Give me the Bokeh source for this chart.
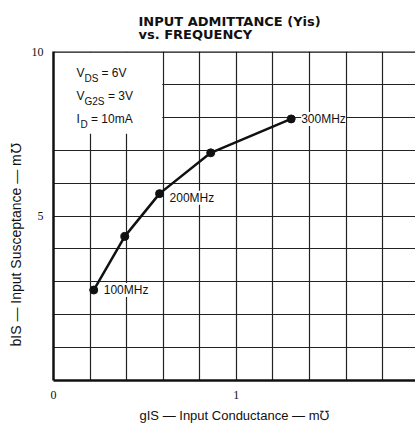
from bokeh.plotting import figure
from bokeh.models import Label, BoxAnnotation, Span, FixedTicker, Range1d, Title
from bokeh.embed import file_html
from bokeh.resources import INLINE

# ---- data ----
g_is = [0.22, 0.39, 0.58, 0.86, 1.30]      # input conductance, mmho
b_is = [2.75, 4.38, 5.68, 6.92, 7.95]      # input susceptance, mmho
freq_labels = ["100MHz", "", "200MHz", "", "300MHz"]

x_ticks = [0, 1]
y_ticks = [5, 10]
x_grid = [0.2, 0.4, 0.6, 0.8, 1.0, 1.2, 1.4, 1.6, 1.8]
y_grid = [1, 2, 3, 4, 5, 6, 7, 8, 9]

title_lines = ["INPUT ADMITTANCE (Yis)", "vs. FREQUENCY"]
cond_lines = [("V", "DS", "= 6V"), ("V", "G2S", "= 3V"), ("I", "D", "= 10mA")]
x_label = "gIS — Input Conductance — m℧"
y_label = "bIS — Input Susceptance — m℧"

INK = "#111111"
FONT = "Liberation Sans"

p = figure(width=415, height=425, x_range=Range1d(0, 1.98), y_range=Range1d(0, 10),
           output_backend="svg", toolbar_location=None, title=None,
           min_border_left=53, min_border_right=0, min_border_top=51, min_border_bottom=43)
p.outline_line_color = None
p.background_fill_color = "white"

for ax in (p.xaxis[0], p.yaxis[0]):
    ax.axis_line_color = INK
    ax.axis_line_width = 2.5
    ax.major_tick_line_color = None
    ax.minor_tick_line_color = None
    ax.major_label_text_font = "Liberation Serif"
    ax.major_label_text_font_size = "12px"
    ax.major_label_text_color = INK
    ax.major_label_standoff = 4
    ax.axis_label_text_font = FONT
    ax.axis_label_text_font_size = "13px"
    ax.axis_label_text_font_style = "normal"
    ax.axis_label_text_color = INK
p.xaxis.ticker = FixedTicker(ticks=x_ticks)
p.yaxis.ticker = FixedTicker(ticks=y_ticks)
p.xaxis.axis_label = x_label
p.xaxis.axis_label_standoff = 6

p.xgrid.ticker = FixedTicker(ticks=x_grid)
p.ygrid.ticker = FixedTicker(ticks=y_grid)
for gr in (p.xgrid[0], p.ygrid[0]):
    gr.grid_line_color = "#222222"
    gr.grid_line_width = 1.2

# white area behind the conditions text
p.add_layout(BoxAnnotation(left=0, right=0.595, bottom=7.5, top=10, fill_color="white",
                           fill_alpha=1, line_color=None, level="underlay"))
# top border
p.add_layout(Span(location=p.y_range.end, dimension="width", line_color=INK, line_width=2.5))

# curve and points
p.line(g_is, b_is, line_color=INK, line_width=2.5)
p.scatter(g_is, b_is, size=8, color=INK)

for gx, by, lab in zip(g_is, b_is, freq_labels):
    if lab:
        p.add_layout(Label(x=gx, y=by, text=lab, x_offset=10, y_offset=-4 if lab == "200MHz" else 0,
                           text_baseline="middle", text_font=FONT, text_font_size="12px",
                           text_color=INK, background_fill_color="white"))

# conditions text (anchored at top-left corner of the frame)
x0, y0 = p.x_range.start, p.y_range.end
for i, (main, sub, rest) in enumerate(cond_lines):
    base = -28 - 23 * i
    p.add_layout(Label(x=x0, y=y0, x_offset=23, y_offset=base, text=main, text_font=FONT,
                       text_font_size="12px", text_color=INK))
    subx = 23 + (8 if main == "V" else 4)
    p.add_layout(Label(x=x0, y=y0, x_offset=subx, y_offset=base - 4, text=sub, text_font=FONT,
                       text_font_size="10px", text_color=INK))
    restx = subx + len(sub) * 6.5 + 4
    p.add_layout(Label(x=x0, y=y0, x_offset=restx, y_offset=base, text=rest, text_font=FONT,
                       text_font_size="12px", text_color=INK))

# y-axis label as a left-side title, placed toward the bottom like the reference
p.add_layout(Title(text=y_label, align="left", offset=34, standoff=10,
                   text_font=FONT, text_font_style="normal", text_font_size="14px",
                   text_color=INK), "left")

# two-line title
p.add_layout(Title(text="\n".join(title_lines), align="left", offset=85, standoff=19,
                   text_font="DejaVu Sans", text_font_style="bold", text_font_size="13px",
                   text_line_height=0.9, text_color=INK), "above")

open("out.html", "w").write(file_html(p, INLINE))
